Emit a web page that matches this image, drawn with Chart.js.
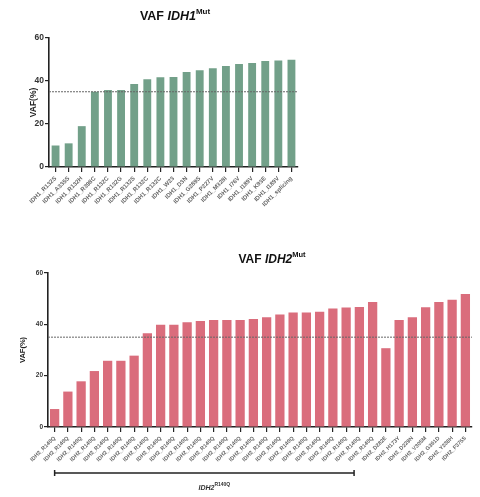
<!DOCTYPE html>
<html>
<head>
<meta charset="utf-8">
<script src="https://cdn.jsdelivr.net/npm/chart.js@4"></script>
<style>
  body { margin: 0; background: #fff; }
  #wrap { position: relative; width: 480px; height: 497px; }
  .box { position: absolute; left: 0; }
</style>
</head>
<body>
<div id="wrap">
  <div class="box" style="top:0;width:310px;height:245px"><canvas id="idh1"></canvas></div>
  <div class="box" style="top:245px;width:480px;height:252px"><canvas id="idh2"></canvas></div>
</div>
<script>
// data
const idh1Labels = ['IDH1_R132S', 'IDH1_A335S', 'IDH1_R132H', 'IDH1_R398C', 'IDH1_R132C', 'IDH1_R132G',
  'IDH1_R132S', 'IDH1_R132C', 'IDH1_R132C', 'IDH1_W23', 'IDH1_D3N', 'IDH1_G289S', 'IDH1_P227V',
  'IDH1_M328I', 'IDH1_I76V', 'IDH1_I189V', 'IDH1_K93E', 'IDH1_I189V', 'IDH1_splicing']
const idh1Vaf = [10, 11, 19, 35, 35.8, 35.8, 38.6, 40.8, 41.7, 41.9, 44.2, 45, 45.9, 47, 47.9, 48.4, 49.3, 49.5, 49.9]

const idh2Labels = Array(25).fill('IDH2_R140Q').concat(
  ['IDH2_D282E', 'IDH2_H173Y', 'IDH2_D229N', 'IDH2_V305M', 'IDH2_G361D', 'IDH2_Y238H', 'IDH2_F375S'])
const idh2Vaf = [7, 13.8, 17.8, 21.8, 25.8, 25.8, 27.8, 36.5, 39.8, 39.8, 40.8, 41.3, 41.7, 41.7, 41.7, 42.1,
  42.8, 43.8, 44.6, 44.6, 44.9, 46.2, 46.6, 46.8, 48.7, 30.7, 41.7, 42.8, 46.7, 48.7, 49.6, 51.8]

const yTicks = [0, 20, 40, 60]
const cutoff = 35               // dotted threshold line
const r140qSpan = [0, 22.6]     // bracket under the R140Q group (category index)

const FONT = '"Liberation Sans", Arial, sans-serif'

// title with italic gene name + superscript
const titlePlugin = {
  id: 'geneTitle',
  afterDraw(chart, args, opts) {
    const ctx = chart.ctx
    const parts = opts.parts
    ctx.save()
    ctx.fillStyle = '#111'
    ctx.textBaseline = 'alphabetic'
    let w = 0
    parts.forEach(p => { ctx.font = p.font; w += ctx.measureText(p.text).width })
    let x = opts.x - w / 2
    parts.forEach(p => {
      ctx.font = p.font
      ctx.fillText(p.text, x, opts.y - (p.up || 0))
      x += ctx.measureText(p.text).width
    })
    ctx.restore()
  }
}

// dotted line at the cutoff
const cutoffPlugin = {
  id: 'cutoff',
  afterDatasetsDraw(chart) {
    const {ctx, chartArea, scales} = chart
    const y = scales.y.getPixelForValue(cutoff)
    ctx.save()
    ctx.strokeStyle = '#666'
    ctx.lineWidth = 1
    ctx.setLineDash([2, 1])
    ctx.beginPath()
    ctx.moveTo(chartArea.left, y)
    ctx.lineTo(chartArea.right, y)
    ctx.stroke()
    ctx.restore()
  }
}

// bracket + label under IDH2 R140Q group
const bracketPlugin = {
  id: 'bracket',
  afterDraw(chart) {
    const {ctx, chartArea, scales} = chart
    const x0 = scales.x.getPixelForValue(r140qSpan[0])
    const x1 = scales.x.getPixelForValue(r140qSpan[1])
    const y = chartArea.bottom + 46
    ctx.save()
    ctx.strokeStyle = '#222'
    ctx.lineWidth = 1.5
    ctx.beginPath()
    ctx.moveTo(x0, y); ctx.lineTo(x1, y)
    ctx.moveTo(x0, y - 3); ctx.lineTo(x0, y + 3)
    ctx.moveTo(x1, y - 3); ctx.lineTo(x1, y + 3)
    ctx.stroke()
    ctx.fillStyle = '#333'
    ctx.font = 'italic bold 7px ' + FONT
    const a = 'IDH2'
    const wa = ctx.measureText(a).width
    ctx.font = 'bold 5px ' + FONT
    const b = 'R140Q'
    const wb = ctx.measureText(b).width
    const cx = (x0 + x1) / 2 + 10
    const ty = y + 17
    ctx.font = 'italic bold 7px ' + FONT
    ctx.fillText(a, cx - (wa + wb) / 2, ty)
    ctx.font = 'bold 5px ' + FONT
    ctx.fillText(b, cx - (wa + wb) / 2 + wa, ty - 4)
    ctx.restore()
  }
}

function makeChart(id, labels, values, color, cfg) {
  return new Chart(document.getElementById(id), {
    type: 'bar',
    data: {
      labels: labels,
      datasets: [{
        data: values,
        backgroundColor: color,
        barPercentage: cfg.barPct,
        categoryPercentage: 1
      }]
    },
    options: {
      responsive: true,
      maintainAspectRatio: false,
      animation: false,
      layout: { padding: { top: cfg.top, right: cfg.right, left: 0, bottom: 0 } },
      plugins: {
        legend: { display: false },
        tooltip: { enabled: false },
        geneTitle: cfg.title
      },
      scales: {
        x: {
          afterFit: s => { s.height = cfg.xHeight },
          border: { color: '#222', width: 1.6 },
          grid: { display: true, drawOnChartArea: false, offset: false, tickLength: 5, color: '#222', lineWidth: 1.2 },
          ticks: {
            autoSkip: false, minRotation: 45, maxRotation: 45, padding: 3,
            color: '#666', font: { family: FONT, size: cfg.xFont, weight: 'bold' }
          }
        },
        y: {
          min: 0, max: 60,
          afterFit: s => { s.width = cfg.yWidth },
          afterBuildTicks: s => { s.ticks = yTicks.map(v => ({ value: v })) },
          border: { color: '#222', width: 1.6 },
          grid: { display: true, drawOnChartArea: false, tickLength: 4, color: '#222', lineWidth: 1.2 },
          ticks: { padding: 1, color: '#333', font: { family: FONT, size: cfg.yFont, weight: 'bold' } },
          title: {
            display: true, text: 'VAF(%)', color: '#222',
            padding: { top: cfg.yTitlePad, bottom: 0 },
            font: { family: FONT, size: cfg.yTitleFont, weight: 'bold' }
          }
        }
      }
    },
    plugins: cfg.extra
  })
}

makeChart('idh1', idh1Labels, idh1Vaf, '#72a089', {
  barPct: 0.6, top: 38, right: 12, xHeight: 78, yWidth: 49, xFont: 6, yFont: 8.5,
  yTitleFont: 8.5, yTitlePad: 29,
  title: { x: 175, y: 20, parts: [
    { text: 'VAF ', font: 'bold 12.5px ' + FONT },
    { text: 'IDH1', font: 'italic bold 12.5px ' + FONT },
    { text: 'Mut', font: 'bold 8px ' + FONT, up: 6 }
  ] },
  extra: [cutoffPlugin, titlePlugin]
})

makeChart('idh2', idh2Labels, idh2Vaf, '#da6d7c', {
  barPct: 0.7, top: 28, right: 8, xHeight: 70, yWidth: 48, xFont: 5.5, yFont: 6.5,
  yTitleFont: 7.5, yTitlePad: 18,
  title: { x: 272, y: 18, parts: [
    { text: 'VAF ', font: 'bold 12px ' + FONT },
    { text: 'IDH2', font: 'italic bold 12px ' + FONT },
    { text: 'Mut', font: 'bold 7.5px ' + FONT, up: 6 }
  ] },
  extra: [cutoffPlugin, titlePlugin, bracketPlugin]
})
</script>
</body>
</html>
